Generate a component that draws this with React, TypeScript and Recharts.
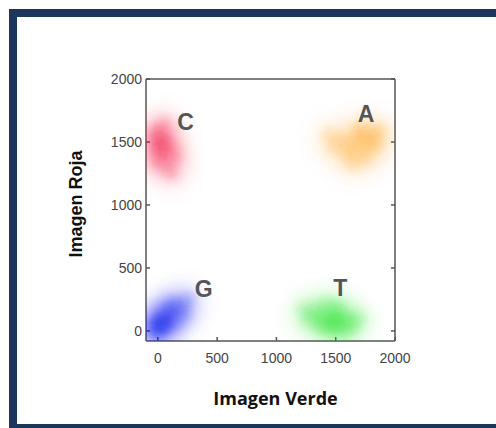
import { ScatterChart, Scatter, XAxis, YAxis, Label } from "recharts";

// tick values shared by every axis
const ticks = [0, 500, 1000, 1500, 2000];

// point clouds (Imagen Verde, Imagen Roja)
const puntosC = [
  { x: 0, y: 1500 }, { x: 30, y: 1540 }, { x: -20, y: 1460 }, { x: 50, y: 1470 },
  { x: 20, y: 1420 }, { x: -40, y: 1560 }, { x: 70, y: 1520 }, { x: 10, y: 1600 },
  { x: 40, y: 1380 }, { x: 100, y: 1440 }, { x: -10, y: 1330 }, { x: 150, y: 1380 },
  { x: 60, y: 1640 }, { x: 120, y: 1250 }, { x: 80, y: 1300 },
];
const puntosA = [
  { x: 1770, y: 1540 }, { x: 1720, y: 1500 }, { x: 1820, y: 1560 }, { x: 1680, y: 1570 },
  { x: 1620, y: 1480 }, { x: 1790, y: 1460 }, { x: 1540, y: 1520 }, { x: 1720, y: 1610 },
  { x: 1860, y: 1490 }, { x: 1580, y: 1410 }, { x: 1680, y: 1400 }, { x: 1760, y: 1370 },
  { x: 1470, y: 1460 }, { x: 1880, y: 1590 }, { x: 1440, y: 1560 }, { x: 1640, y: 1320 },
];
const puntosG = [
  { x: 20, y: 60 }, { x: 60, y: 100 }, { x: 0, y: 20 }, { x: 100, y: 130 },
  { x: -40, y: 80 }, { x: 140, y: 170 }, { x: 80, y: 40 }, { x: 190, y: 210 },
  { x: 40, y: 160 }, { x: -60, y: 10 }, { x: 230, y: 140 }, { x: 110, y: 220 },
  { x: 160, y: 80 }, { x: -20, y: -40 }, { x: 260, y: 250 }, { x: 30, y: 0 },
  { x: 10, y: 70 }, { x: 50, y: 50 },
];
const puntosT = [
  { x: 1480, y: 80 }, { x: 1420, y: 50 }, { x: 1550, y: 60 }, { x: 1500, y: 130 },
  { x: 1390, y: 120 }, { x: 1600, y: 100 }, { x: 1460, y: 10 }, { x: 1320, y: 150 },
  { x: 1640, y: 40 }, { x: 1360, y: 50 }, { x: 1520, y: 190 }, { x: 1270, y: 90 },
  { x: 1690, y: 100 }, { x: 1420, y: 210 }, { x: 1570, y: -10 }, { x: 1230, y: 170 },
  { x: 1500, y: 60 },
];

// base letters placed next to each cloud
const letras = [
  { x: 233, y: 1659, base: "C" },
  { x: 1757, y: 1726, base: "A" },
  { x: 387, y: 331, base: "G" },
  { x: 1538, y: 339, base: "T" },
];

const tickFont = { fontSize: 14, fill: "#444", fontFamily: "'Liberation Sans', Arial, sans-serif" };
const ejeColor = "#555";

// each point is a soft halo plus a blurred core
const nube = (color: string) => (props: any) => (
  <g>
    <circle cx={props.cx} cy={props.cy} r={18} fill={color} fillOpacity={0.06} filter="url(#halo)" />
    <circle cx={props.cx} cy={props.cy} r={7} fill={color} fillOpacity={0.2} filter="url(#nucleo)" />
  </g>
);

const letra = (props: any) => (
  <text
    x={props.cx}
    y={props.cy + 8}
    textAnchor="middle"
    fontSize={23}
    fontWeight="bold"
    fontFamily="'Liberation Sans', Arial, sans-serif"
    fill="#555"
  >
    {props.payload.base}
  </text>
);

export default function App() {
  return (
    <div
      style={{
        position: "absolute",
        left: 9,
        top: 9,
        width: 487,
        height: 419,
        overflow: "hidden",
        background: "#fff",
      }}
    >
      {/* blurs used by the point clouds */}
      <svg width={0} height={0} style={{ position: "absolute" }}>
        <defs>
          <filter id="halo" x="-150%" y="-150%" width="400%" height="400%">
            <feGaussianBlur stdDeviation={9} />
          </filter>
          <filter id="nucleo" x="-150%" y="-150%" width="400%" height="400%">
            <feGaussianBlur stdDeviation={4.5} />
          </filter>
        </defs>
      </svg>

      <div style={{ position: "absolute", left: 0, top: 0 }}>
        <ScatterChart width={480} height={410} margin={{ top: 60, right: 84, bottom: 48, left: 97 }}>
          <XAxis
            type="number"
            dataKey="x"
            domain={[-100, 2000]}
            ticks={ticks}
            allowDataOverflow
            height={30}
            tickSize={-4}
            tickMargin={16}
            tick={tickFont}
            stroke={ejeColor}
            strokeWidth={1.5}
          >
            <Label
              content={(p: any) => {
                const cx = p.viewBox.x + p.viewBox.width / 2 + 5;
                const cy = p.viewBox.y + 64;
                return (
                  <text
                    x={cx}
                    y={cy}
                    textAnchor="middle"
                    fontSize={18}
                    fontWeight="bold"
                    fontFamily="'Open Sans', sans-serif"
                    fill="#111"
                  >
                    Imagen Verde
                  </text>
                );
              }}
            />
          </XAxis>
          <XAxis
            xAxisId="top"
            orientation="top"
            type="number"
            domain={[-100, 2000]}
            ticks={ticks}
            allowDataOverflow
            height={10}
            tickSize={-4}
            tick={() => <g />}
            stroke={ejeColor}
            strokeWidth={1.5}
          />
          <YAxis
            type="number"
            dataKey="y"
            domain={[-80, 2000]}
            ticks={ticks}
            allowDataOverflow
            width={40}
            tickSize={-4}
            tickMargin={8}
            tick={tickFont}
            stroke={ejeColor}
            strokeWidth={1.5}
          >
            <Label
              content={(p: any) => {
                const cx = p.viewBox.x - 30;
                const cy = p.viewBox.y + p.viewBox.height / 2 - 6;
                return (
                  <text
                    x={cx}
                    y={cy}
                    transform={`rotate(-90 ${cx} ${cy})`}
                    textAnchor="middle"
                    dominantBaseline="central"
                    fontSize={18}
                    fontWeight="bold"
                    fontFamily="'Liberation Sans', Arial, sans-serif"
                    fill="#111"
                  >
                    Imagen Roja
                  </text>
                );
              }}
            />
          </YAxis>
          <YAxis
            yAxisId="right"
            orientation="right"
            type="number"
            domain={[-80, 2000]}
            ticks={ticks}
            allowDataOverflow
            width={10}
            tickSize={-4}
            tick={() => <g />}
            stroke={ejeColor}
            strokeWidth={1.5}
          />

          <Scatter data={puntosC} fill="#f03040" shape={nube("#f03040")} isAnimationActive={false} />
          <Scatter data={puntosA} fill="#ff9a20" shape={nube("#ff9a20")} isAnimationActive={false} />
          <Scatter data={puntosG} fill="#1a22e8" shape={nube("#1a22e8")} isAnimationActive={false} />
          <Scatter data={puntosT} fill="#20e030" shape={nube("#20e030")} isAnimationActive={false} />
          <Scatter data={letras} fill="#555" shape={letra} isAnimationActive={false} />
        </ScatterChart>
      </div>

      {/* navy frame, right and bottom edges run past the window */}
      <div
        style={{
          position: "absolute",
          left: 0,
          top: 0,
          width: 560,
          height: 423,
          boxSizing: "border-box",
          border: "8px solid #1b365d",
          pointerEvents: "none",
        }}
      />
    </div>
  );
}
